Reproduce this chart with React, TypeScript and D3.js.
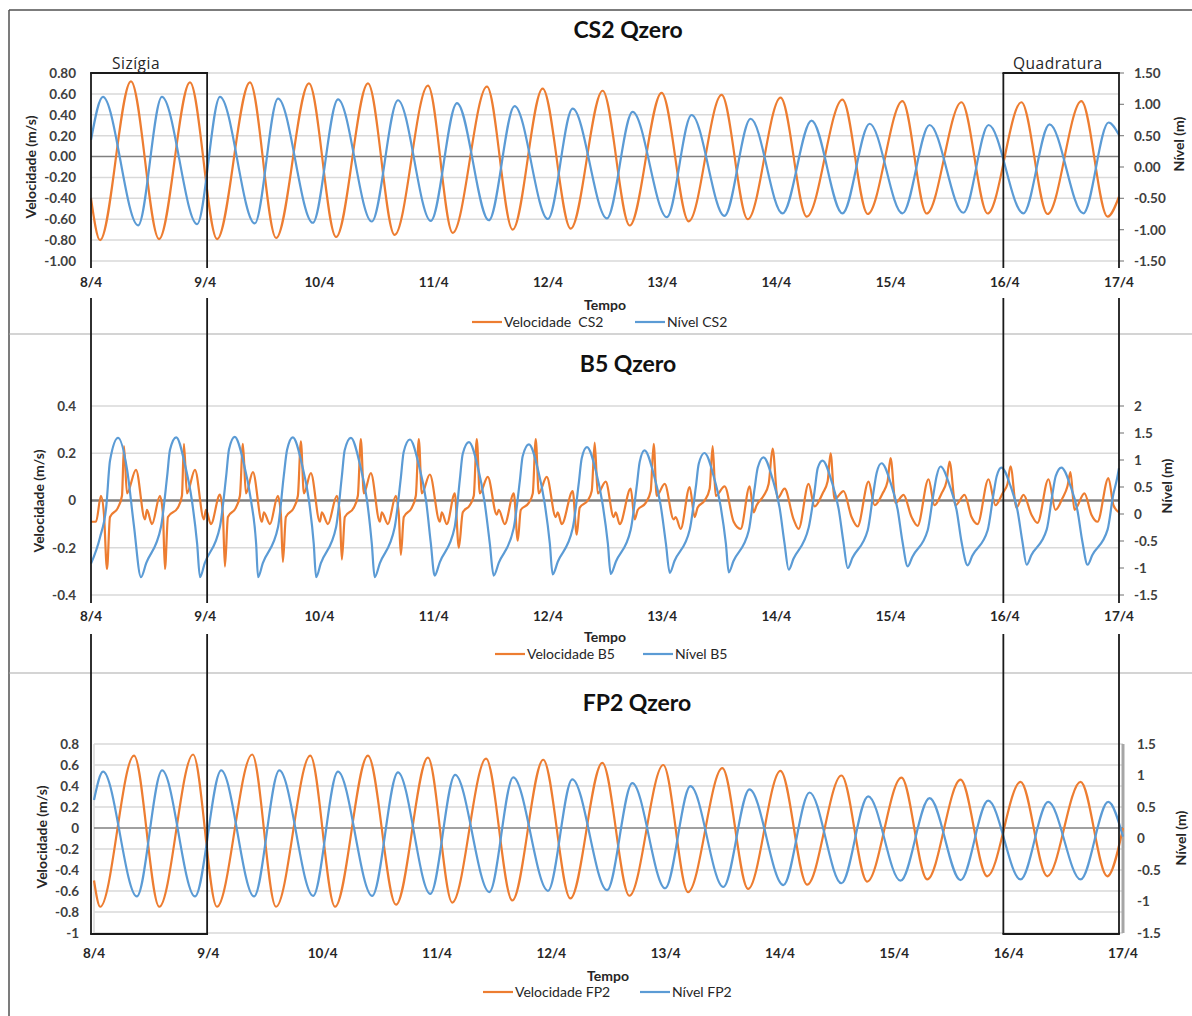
import { useEffect, useRef } from "react"
import * as d3 from "d3"

// [hours since 8/4 00:00, value]
type Pt = [number, number]

const dateLabels = ["8/4", "9/4", "10/4", "11/4", "12/4", "13/4", "14/4", "15/4", "16/4", "17/4"]

const cs2Velocity: Pt[] = [[0,-0.40],[1.9,-0.80],[8.4,0.72],[14.3,-0.79],[20.8,0.71],[26.5,-0.79],[33.4,0.71],[38.9,-0.78],[45.8,0.70],[51.5,-0.77],[58.2,0.70],[63.8,-0.75],[70.8,0.68],[76.0,-0.73],[83.2,0.67],[88.6,-0.70],[94.9,0.65],[100.8,-0.69],[107.5,0.63],[113.2,-0.66],[119.9,0.61],[125.6,-0.62],[132.5,0.59],[138.0,-0.60],[144.9,0.565],[150.4,-0.575],[157.9,0.546],[163.2,-0.55],[170.5,0.53],[175.6,-0.545],[182.9,0.52],[188.4,-0.545],[195.5,0.52],[201.0,-0.55],[208.1,0.53],[213.6,-0.575],[216,-0.385]]

const cs2Level: Pt[] = [[0,0.43],[2.5,1.12],[9.9,-0.93],[14.9,1.12],[22.3,-0.91],[27.1,1.12],[34.4,-0.90],[39.3,1.09],[46.6,-0.89],[51.9,1.08],[59.0,-0.87],[64.5,1.065],[71.4,-0.86],[76.9,1.02],[83.6,-0.85],[89.0,0.97],[96.0,-0.83],[101.2,0.93],[108.4,-0.82],[113.8,0.88],[121.0,-0.80],[126.2,0.83],[133.1,-0.78],[138.6,0.77],[145.3,-0.74],[151.4,0.74],[157.9,-0.74],[163.6,0.69],[170.5,-0.74],[176.2,0.67],[183.3,-0.73],[188.6,0.67],[195.9,-0.74],[201.4,0.68],[208.5,-0.74],[213.8,0.71],[216,0.51]]

const b5Velocity: Pt[] = [[0,-0.09],[1.05,-0.09],
  [2.1,0.02],[2.73,-0.06],[3.36,-0.29],[3.99,-0.07],[5.67,-0.03],[6.51,0.02],[6.93,0.23],[7.56,0.03],[9.45,0.13],[11.34,-0.08],[11.76,-0.04],[12.81,-0.10],
  [14.49,0.02],[15.12,-0.06],[15.54,-0.29],[16.17,-0.07],[18.27,-0.03],[19.11,0.02],[19.53,0.24],[20.16,0.03],[21.84,0.13],[23.73,-0.08],[24.15,-0.04],[25.2,-0.10],
  [27.09,0.025],[27.72,-0.06],[28.14,-0.28],[28.77,-0.07],[30.45,-0.03],[31.29,0.02],[31.92,0.24],[32.55,0.03],[34.02,0.12],[35.91,-0.09],[36.33,-0.05],[37.59,-0.10],
  [39.27,0.02],[39.9,-0.06],[40.32,-0.26],[40.95,-0.07],[42.63,-0.03],[43.47,0.02],[44.1,0.25],[44.73,0.03],[46.2,0.116],[48.09,-0.09],[48.51,-0.05],[49.77,-0.10],
  [51.66,0.02],[52.29,-0.06],[52.71,-0.25],[53.34,-0.07],[55.23,-0.03],[56.07,0.02],[56.7,0.26],[57.33,0.03],[58.8,0.116],[60.69,-0.09],[61.11,-0.05],[62.37,-0.10],
  [64.05,0.02],[64.68,-0.06],[65.1,-0.23],[65.73,-0.07],[67.41,-0.03],[68.25,0.02],[68.88,0.26],[69.51,0.03],[71.19,0.11],[73.29,-0.09],[73.71,-0.05],[74.76,-0.10],
  [76.44,0.03],[77.28,-0.20],[78.12,-0.05],[79.59,-0.02],[80.43,0.02],[81.06,0.26],[81.69,0.03],[83.37,0.10],[85.26,-0.06],[85.68,-0.04],[86.94,-0.10],
  [88.83,0.03],[89.67,-0.17],[90.3,-0.04],[91.98,-0.01],[92.82,0.03],[93.45,0.26],[94.08,0.03],[95.76,0.10],[97.65,-0.07],[98.07,-0.05],[98.91,-0.10],
  [101.22,0.04],[102.06,-0.145],[102.69,-0.03],[104.37,0.0],[105.21,0.04],[105.84,0.245],[106.47,0.03],[108.15,0.08],[109.83,-0.07],[110.25,-0.05],[111.09,-0.10],
  [113.4,0.05],[114.24,-0.08],[114.87,-0.04],[116.55,-0.01],[117.6,0.04],[118.23,0.24],[118.86,0.02],[120.54,0.07],[122.43,-0.08],[122.85,-0.07],[123.9,-0.12],
  [125.79,0.057],[126.84,-0.07],[127.47,-0.03],[128.94,0.0],[129.99,0.05],[130.62,0.23],[131.25,0.02],[133.14,0.06],[135.03,-0.09],[136.5,-0.12],
  [138.39,0.06],[139.23,-0.05],[139.86,-0.02],[141.33,0.02],[142.38,0.07],[143.22,0.22],[144.27,0.01],[145.74,0.05],[147.63,-0.08],[148.68,-0.12],
  [150.78,0.07],[152.04,-0.025],[153.72,0.03],[154.77,0.08],[155.4,0.20],[156.24,0.006],[158.13,0.04],[159.81,-0.07],[161.07,-0.11],
  [163.38,0.08],[164.64,-0.02],[166.32,0.03],[167.37,0.08],[168.0,0.18],[169.05,-0.01],[170.73,0.024],[172.41,-0.07],[173.67,-0.107],
  [175.98,0.09],[177.24,-0.02],[178.71,0.03],[179.76,0.08],[180.39,0.165],[181.65,-0.02],[183.54,0.024],[185.01,-0.07],[186.27,-0.10],
  [188.58,0.09],[190.05,-0.02],[191.52,0.03],[192.57,0.07],[193.2,0.145],[194.46,-0.03],[195.93,0.024],[197.61,-0.06],[198.87,-0.095],
  [201.18,0.09],[202.65,-0.04],[204.12,0.01],[205.17,0.06],[205.8,0.12],[206.64,-0.04],[208.74,0.03],[210.21,-0.06],[211.47,-0.09],
  [213.78,0.095],[214.83,-0.02],[216,-0.05]]

const b5Level: Pt[] = [[0,-0.92],[1.9,-0.43],[3.2,0.13],[4.0,0.99],[5.7,1.41],[7.6,0.81],[9.0,-0.20],[10.5,-1.17],
  [11.6,-0.91],[14.7,-0.24],[16.0,0.70],[16.6,1.19],[17.9,1.42],[19.7,0.93],[21.2,0.25],[22.3,-0.55],[22.9,-1.17],
  [23.9,-0.91],[27.1,-0.23],[28.4,0.70],[29.0,1.20],[30.2,1.43],[32.1,0.94],[33.6,0.26],[34.7,-0.55],[35.1,-1.17],
  [36.1,-0.91],[39.3,-0.24],[40.5,0.70],[41.2,1.19],[42.4,1.42],[44.3,0.93],[45.8,0.25],[46.8,-0.55],[47.3,-1.17],
  [48.3,-0.91],[51.5,-0.24],[52.7,0.69],[53.3,1.18],[54.6,1.41],[56.5,0.92],[58.0,0.25],[59.0,-0.55],[59.6,-1.17],
  [60.7,-0.91],[63.8,-0.25],[65.1,0.67],[65.7,1.15],[67.0,1.38],[68.9,0.90],[70.4,0.25],[71.4,-0.54],[72.2,-1.14],
  [73.3,-0.89],[76.4,-0.25],[77.5,0.64],[78.1,1.11],[79.4,1.33],[81.3,0.86],[82.7,0.22],[83.8,-0.55],[84.6,-1.14],
  [85.7,-0.90],[88.8,-0.27],[90.1,0.61],[90.7,1.07],[92.0,1.29],[93.9,0.83],[95.3,0.21],[96.4,-0.54],[97.0,-1.12],
  [98.1,-0.88],[101.2,-0.27],[102.5,0.58],[103.1,1.03],[104.2,1.24],[106.1,0.79],[107.5,0.18],[108.6,-0.55],[109.2,-1.11],
  [110.3,-0.88],[113.4,-0.29],[114.7,0.54],[115.3,0.97],[116.3,1.18],[118.2,0.75],[119.7,0.16],[120.8,-0.55],[121.6,-1.09],
  [122.6,-0.87],[125.8,-0.29],[127.1,0.51],[127.7,0.93],[128.9,1.13],[130.8,0.71],[132.3,0.14],[133.4,-0.55],[134.0,-1.08],
  [135.0,-0.87],[138.2,-0.31],[139.4,0.45],[140.1,0.86],[141.3,1.05],[143.2,0.65],[144.7,0.11],[145.7,-0.53],[146.6,-1.03],
  [147.6,-0.83],[150.8,-0.25],[152.0,0.40],[152.7,0.85],[153.7,0.99],[155.6,0.61],[157.1,0.09],[158.1,-0.52],[159.0,-1.00],
  [160.0,-0.81],[163.2,-0.30],[164.4,0.40],[165.1,0.77],[166.1,0.94],[168.0,0.58],[169.5,0.08],[170.5,-0.51],[171.6,-0.97],
  [172.6,-0.79],[175.8,-0.30],[177.0,0.36],[177.7,0.71],[178.5,0.88],[180.4,0.53],[181.9,0.06],[182.9,-0.51],[184.2,-0.95],
  [185.2,-0.77],[188.4,-0.30],[189.6,0.35],[190.3,0.70],[191.3,0.86],[193.2,0.52],[194.7,0.05],[195.7,-0.51],[196.6,-0.94],
  [197.6,-0.76],[200.8,-0.29],[202.0,0.36],[202.7,0.70],[203.9,0.86],[205.8,0.52],[207.3,0.05],[208.3,-0.51],[209.4,-0.94],
  [210.4,-0.76],[213.6,-0.29],[214.8,0.36],[215.5,0.62],[216,0.85]]

const fp2Velocity: Pt[] = [[0,-0.50],[1.3,-0.75],[8.4,0.69],[13.7,-0.75],[20.8,0.70],[25.8,-0.75],[33.2,0.70],[38.2,-0.75],[45.4,0.69],[50.6,-0.75],[57.5,0.69],[63.4,-0.73],[70.1,0.67],[75.2,-0.71],[82.3,0.66],[87.8,-0.69],[94.3,0.65],[100.0,-0.67],[106.7,0.62],[112.4,-0.645],[119.5,0.60],[124.7,-0.61],[131.9,0.57],[137.3,-0.58],[144.1,0.545],[149.7,-0.54],[156.9,0.50],[162.3,-0.51],[169.5,0.48],[174.9,-0.49],[181.9,0.46],[187.5,-0.46],[194.5,0.44],[200.1,-0.46],[207.1,0.44],[212.7,-0.46],[216,0.0]]

const fp2Level: Pt[] = [[0,0.61],[1.9,1.06],[9.0,-0.92],[14.3,1.08],[21.2,-0.92],[26.7,1.08],[33.6,-0.92],[38.9,1.08],[46.0,-0.91],[51.2,1.06],[58.4,-0.91],[63.8,1.05],[70.6,-0.88],[75.8,1.01],[83.0,-0.85],[88.0,0.97],[95.3,-0.83],[100.4,0.94],[107.7,-0.82],[113.0,0.88],[119.9,-0.79],[125.2,0.83],[132.1,-0.77],[137.6,0.78],[144.7,-0.74],[150.2,0.73],[156.9,-0.71],[162.5,0.67],[169.3,-0.67],[175.4,0.64],[181.9,-0.66],[187.7,0.60],[194.5,-0.65],[200.3,0.58],[207.1,-0.65],[212.9,0.58],[216,0.03]]

const velTicksWide = [0.8, 0.6, 0.4, 0.2, 0, -0.2, -0.4, -0.6, -0.8, -1.0]
const velTicksB5 = [0.4, 0.2, 0, -0.2, -0.4]
const levelTicks = [1.5, 1, 0.5, 0, -0.5, -1, -1.5]
const levelTicksB5 = [2, 1.5, 1, 0.5, 0, -0.5, -1, -1.5]

// highlighted windows (hours)
const sizigia = [0, 24.4]
const quadratura = [191.7, 216]

const ORANGE = "#ED7D31"
const BLUE = "#5B9BD5"
const FONT = "Lato, 'Open Sans', sans-serif"

interface Panel {
  title: string
  titleX: number
  titleY: number
  x0: number
  x1: number
  yTop: number
  yBottom: number
  leftDomain: [number, number]
  rightDomain: [number, number]
  leftTicks: number[]
  rightTicks: number[]
  fmt: (v: number) => string
  leftLabelX: number
  rightLabelX: number
  dateY: number
  leftTitle: [number, number]
  rightTitle: [number, number]
  tempo: [number, number]
  legendY: number
  legendOrange: number
  legendBlue: number
  velName: string
  levName: string
  velocity: Pt[]
  level: Pt[]
  zeroWidth: number
  rightTickMarks: boolean
  frame: boolean
}

const panels: Panel[] = [
  {
    title: "CS2 Qzero", titleX: 628, titleY: 38,
    x0: 91, x1: 1119, yTop: 73, yBottom: 261,
    leftDomain: [-1, 0.8], rightDomain: [-1.5, 1.5],
    leftTicks: velTicksWide, rightTicks: levelTicks, fmt: v => v.toFixed(2),
    leftLabelX: 76, rightLabelX: 1134, dateY: 287,
    leftTitle: [36, 167], rightTitle: [1184, 144], tempo: [605, 310],
    legendY: 322, legendOrange: 472, legendBlue: 635,
    velName: "Velocidade  CS2", levName: "Nível CS2",
    velocity: cs2Velocity, level: cs2Level, zeroWidth: 1.5, rightTickMarks: true, frame: false,
  },
  {
    title: "B5 Qzero", titleX: 628, titleY: 372,
    x0: 91, x1: 1119, yTop: 406, yBottom: 595,
    leftDomain: [-0.4, 0.4], rightDomain: [-1.5, 2],
    leftTicks: velTicksB5, rightTicks: levelTicksB5, fmt: v => String(v),
    leftLabelX: 76, rightLabelX: 1134, dateY: 621,
    leftTitle: [44, 501], rightTitle: [1172, 486], tempo: [605, 642],
    legendY: 654, legendOrange: 495, legendBlue: 643,
    velName: "Velocidade B5", levName: "Nível B5",
    velocity: b5Velocity, level: b5Level, zeroWidth: 2.5, rightTickMarks: true, frame: false,
  },
  {
    title: "FP2 Qzero", titleX: 637, titleY: 711,
    x0: 94, x1: 1123, yTop: 744, yBottom: 933,
    leftDomain: [-1, 0.8], rightDomain: [-1.5, 1.5],
    leftTicks: velTicksWide, rightTicks: levelTicks, fmt: v => String(+v.toFixed(1)),
    leftLabelX: 79, rightLabelX: 1137, dateY: 958,
    leftTitle: [47, 837], rightTitle: [1186, 838], tempo: [608, 981],
    legendY: 992, legendOrange: 483, legendBlue: 640,
    velName: "Velocidade FP2", levName: "Nível FP2",
    velocity: fp2Velocity, level: fp2Level, zeroWidth: 1.5, rightTickMarks: false, frame: true,
  },
]

export default function App() {
  const svgRef = useRef<SVGSVGElement>(null)

  useEffect(() => {
    if (!svgRef.current) return
    const svg = d3.select(svgRef.current)
    svg.selectAll("*").remove()

    // outer frame and panel separators
    svg.append("line").attr("x1", 9).attr("x2", 9).attr("y1", 10).attr("y2", 1016)
      .attr("stroke", "#505050").attr("stroke-width", 1.5)
    svg.append("line").attr("x1", 9).attr("x2", 1192).attr("y1", 10).attr("y2", 10)
      .attr("stroke", "#505050").attr("stroke-width", 1.5)
    ;[334, 673].forEach(y => {
      svg.append("line").attr("x1", 9.75).attr("x2", 1192).attr("y1", y).attr("y2", y)
        .attr("stroke", "#d4d4d4").attr("stroke-width", 2)
    })

    panels.forEach(p => {
      const x = d3.scaleLinear().domain([0, 216]).range([p.x0, p.x1])
      const yL = d3.scaleLinear().domain(p.leftDomain).range([p.yBottom, p.yTop])
      const yR = d3.scaleLinear().domain(p.rightDomain).range([p.yBottom, p.yTop])
      const g = svg.append("g")

      // gridlines
      g.selectAll(".grid")
        .data(p.leftTicks.filter(v => v !== 0))
        .enter()
        .append("line")
        .attr("x1", p.x0).attr("x2", p.x1)
        .attr("y1", d => yL(d)).attr("y2", d => yL(d))
        .attr("stroke", "#d9d9d9").attr("stroke-width", 1.5)

      if (p.frame) {
        g.append("line").attr("x1", p.x0).attr("x2", p.x0).attr("y1", p.yTop).attr("y2", p.yBottom)
          .attr("stroke", "#d9d9d9").attr("stroke-width", 1.5)
        g.append("line").attr("x1", p.x1).attr("x2", p.x1).attr("y1", p.yTop).attr("y2", p.yBottom)
          .attr("stroke", "#a6a6a6").attr("stroke-width", 3)
      }

      // zero line (category axis)
      g.append("line")
        .attr("x1", p.x0).attr("x2", p.x1)
        .attr("y1", yL(0)).attr("y2", yL(0))
        .attr("stroke", "#808080").attr("stroke-width", p.zeroWidth)

      if (p.rightTickMarks) {
        g.selectAll(".rtick")
          .data(p.rightTicks)
          .enter()
          .append("line")
          .attr("x1", p.x1).attr("x2", p.x1 + 5)
          .attr("y1", d => yR(d)).attr("y2", d => yR(d))
          .attr("stroke", "#868686").attr("stroke-width", 1.2)
      }

      // tick labels
      g.selectAll(".lt")
        .data(p.leftTicks)
        .enter()
        .append("text")
        .attr("x", p.leftLabelX).attr("y", d => yL(d)).attr("dy", "0.36em")
        .attr("text-anchor", "end")
        .attr("font-family", FONT).attr("font-size", 13.5).attr("font-weight", "bold")
        .attr("fill", "#404040")
        .text(d => p.fmt(d))

      g.selectAll(".rt")
        .data(p.rightTicks)
        .enter()
        .append("text")
        .attr("x", p.rightLabelX).attr("y", d => yR(d)).attr("dy", "0.36em")
        .attr("font-family", FONT).attr("font-size", 13.5).attr("font-weight", "bold")
        .attr("fill", "#404040")
        .text(d => p.fmt(d))

      g.selectAll(".dt")
        .data(dateLabels)
        .enter()
        .append("text")
        .attr("x", (d, i) => x(i * 24)).attr("y", p.dateY)
        .attr("text-anchor", "middle")
        .attr("font-family", FONT).attr("font-size", 13.5).attr("font-weight", "bold")
        .attr("fill", "#262626")
        .text(d => d)

      // series
      const velLine = d3.line<Pt>().x(d => x(d[0])).y(d => yL(d[1])).curve(d3.curveMonotoneX)
      const levLine = d3.line<Pt>().x(d => x(d[0])).y(d => yR(d[1])).curve(d3.curveMonotoneX)

      g.append("path").datum(p.velocity).attr("d", velLine)
        .attr("fill", "none").attr("stroke", ORANGE).attr("stroke-width", 2.2)
        .attr("stroke-linejoin", "round")
      g.append("path").datum(p.level).attr("d", levLine)
        .attr("fill", "none").attr("stroke", BLUE).attr("stroke-width", 2.2)
        .attr("stroke-linejoin", "round")

      // titles
      g.append("text")
        .attr("x", p.titleX).attr("y", p.titleY)
        .attr("text-anchor", "middle")
        .attr("font-family", FONT).attr("font-size", 23).attr("font-weight", "bold")
        .attr("fill", "#111")
        .text(p.title)

      g.append("text")
        .attr("transform", `translate(${p.leftTitle[0]},${p.leftTitle[1]}) rotate(-90)`)
        .attr("text-anchor", "middle")
        .attr("font-family", FONT).attr("font-size", 14).attr("font-weight", "bold")
        .attr("fill", "#262626")
        .text("Velocidade (m/s)")

      g.append("text")
        .attr("transform", `translate(${p.rightTitle[0]},${p.rightTitle[1]}) rotate(-90)`)
        .attr("text-anchor", "middle")
        .attr("font-family", FONT).attr("font-size", 14).attr("font-weight", "bold")
        .attr("fill", "#262626")
        .text("Nível (m)")

      g.append("text")
        .attr("x", p.tempo[0]).attr("y", p.tempo[1])
        .attr("text-anchor", "middle")
        .attr("font-family", FONT).attr("font-size", 14).attr("font-weight", "bold")
        .attr("fill", "#262626")
        .text("Tempo")

      // legend
      const legend = [
        { x: p.legendOrange, color: ORANGE, label: p.velName },
        { x: p.legendBlue, color: BLUE, label: p.levName },
      ]
      legend.forEach(l => {
        g.append("line")
          .attr("x1", l.x).attr("x2", l.x + 30)
          .attr("y1", p.legendY).attr("y2", p.legendY)
          .attr("stroke", l.color).attr("stroke-width", 2.2)
        g.append("text")
          .attr("x", l.x + 32).attr("y", p.legendY + 5)
          .attr("font-family", FONT).attr("font-size", 14)
          .attr("fill", "#262626")
          .style("white-space", "pre")
          .text(l.label)
      })
    })

    // Sizígia / Quadratura windows drawn across all three panels
    const xb = d3.scaleLinear().domain([0, 216]).range([91, 1119])
    const segments = [[73, 268], [298, 603], [634, 934]]
    const windows = [
      { range: sizigia, label: "Sizígia", labelX: 112 },
      { range: quadratura, label: "Quadratura", labelX: 1013 },
    ]
    windows.forEach(w => {
      const xa = xb(w.range[0])
      const xc = xb(w.range[1])
      ;[xa, xc].forEach(xx => {
        segments.forEach(s => {
          svg.append("line").attr("x1", xx).attr("x2", xx).attr("y1", s[0]).attr("y2", s[1])
            .attr("stroke", "#1a1a1a").attr("stroke-width", 1.8)
        })
      })
      ;[73, 934].forEach(yy => {
        svg.append("line").attr("x1", xa - 0.9).attr("x2", xc + 0.9).attr("y1", yy).attr("y2", yy)
          .attr("stroke", "#1a1a1a").attr("stroke-width", 1.8)
      })
      svg.append("text")
        .attr("x", w.labelX).attr("y", 69)
        .attr("font-family", "'Open Sans', sans-serif").attr("font-size", 15.5)
        .attr("letter-spacing", 0.5)
        .attr("fill", "#262626")
        .text(w.label)
    })
  }, [])

  return (
    <svg
      ref={svgRef}
      width={1192}
      height={1016}
      style={{ position: "absolute", left: 0, top: 0, background: "#fff" }}
    />
  )
}
